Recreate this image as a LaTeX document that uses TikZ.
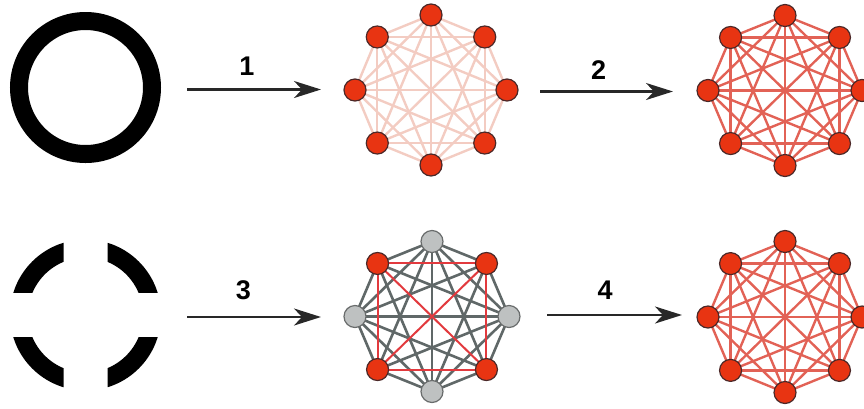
\documentclass[tikz,border=0pt]{standalone}
\usepackage{fontspec}
\setmainfont{Liberation Sans}
\usetikzlibrary{arrows.meta}
\pgfdeclarelayer{bg}
\pgfsetlayers{bg,main}
\definecolor{nodered}{RGB}{232,52,18}
\definecolor{nodeedge}{RGB}{75,40,40}
\definecolor{paleedge}{RGB}{243,204,194}
\definecolor{redge}{RGB}{226,98,86}
\definecolor{redcore}{RGB}{226,58,62}
\definecolor{grayedge}{RGB}{96,104,104}
\definecolor{graynode}{RGB}{190,193,193}
\definecolor{graynodeedge}{RGB}{105,108,108}
\definecolor{arrowc}{RGB}{40,40,40}
\begin{document}
\begin{tikzpicture}[x=1pt,y=-1pt,
  vred/.style={circle,fill=nodered,draw=nodeedge,line width=1.2pt,minimum size=22pt,inner sep=0pt},
  vgray/.style={circle,fill=graynode,draw=graynodeedge,line width=1.2pt,minimum size=22pt,inner sep=0pt},
  pale/.style={draw=paleedge,line width=2.4pt},
  strong/.style={draw=redge,line width=2.4pt},
  grayline/.style={draw=grayedge,line width=2.6pt},
  redline/.style={draw=redcore,line width=2pt},
  ring/.style={draw=black,line width=18pt},
  arr/.style={draw=arrowc,line width=2.4pt,-{Stealth[length=27pt,width=17pt,inset=8pt]}},
  lab/.style={font=\bfseries\fontsize{27}{27}\selectfont,text=black,inner sep=0pt}
]
\useasboundingbox (0,0) rectangle (864,408);

% solid ring
\draw[ring] (85.5,87.5) circle[radius=66.5];

% broken ring
\foreach \sx/\sy in {1/1,1/-1,-1/1,-1/-1}{
  \begin{scope}
    \clip (85.5+\sx*22,315+\sy*22.5) rectangle (85.5+\sx*110,315+\sy*110);
    \draw[ring] (85.5,315) circle[radius=66.5];
  \end{scope}
}

% graph 1 (pale)
\foreach \k in {0,...,7}{
  \node[vred] (ga-\k) at ({431+76*cos(45*\k)},{90+75*sin(45*\k)}) {};
}
% graph 2 (strong, top right)
\foreach \k in {0,...,7}{
  \node[vred] (gb-\k) at ({785+77*cos(45*\k)},{90.5+75*sin(45*\k)}) {};
}
% graph 3 (mixed)
\foreach \k in {0,...,7}{
  \pgfmathtruncatemacro\odd{isodd(\k)}
  \ifnum\odd=1
    \node[vred] (gc-\k) at ({432+77*cos(45*\k)},{316.5+75*sin(45*\k)}) {};
  \else
    \node[vgray] (gc-\k) at ({432+77*cos(45*\k)},{316.5+75*sin(45*\k)}) {};
  \fi
}
% graph 4 (strong, bottom right)
\foreach \k in {0,...,7}{
  \node[vred] (gd-\k) at ({785+77*cos(45*\k)},{317+75.5*sin(45*\k)}) {};
}

\begin{pgfonlayer}{bg}
  \foreach \i in {0,...,6}{
    \pgfmathtruncatemacro\s{\i+1}
    \foreach \j in {\s,...,7}{
      \draw[pale] (ga-\i.center) -- (ga-\j.center);
      \draw[strong] (gb-\i.center) -- (gb-\j.center);
      \draw[strong] (gd-\i.center) -- (gd-\j.center);
      \pgfmathtruncatemacro\both{and(isodd(\i),isodd(\j))}
      \ifnum\both=0
        \draw[grayline] (gc-\i.center) -- (gc-\j.center);
      \fi
    }
  }
  \foreach \i/\j in {1/3,1/5,1/7,3/5,3/7,5/7}{
    \draw[redline] (gc-\i.center) -- (gc-\j.center);
  }
\end{pgfonlayer}

% arrows
\coordinate (a1s) at (187,89.5);  \coordinate (a1e) at (321,89.5);
\coordinate (a2s) at (540,91.5);  \coordinate (a2e) at (673,91.5);
\coordinate (a3s) at (187,317);   \coordinate (a3e) at (321,317);
\coordinate (a4s) at (547,315);   \coordinate (a4e) at (682,315);
\draw[arr] (a1s) -- (a1e);
\draw[arr] (a2s) -- (a2e);
\draw[arr] (a3s) -- (a3e);
\draw[arr] (a4s) -- (a4e);

\node[lab] (l1) at (247,66.5) {1};
\node[lab] (l2) at (598.5,70) {2};
\node[lab] (l3) at (243.5,290) {3};
\node[lab] (l4) at (605,290) {4};
\end{tikzpicture}
\end{document}
